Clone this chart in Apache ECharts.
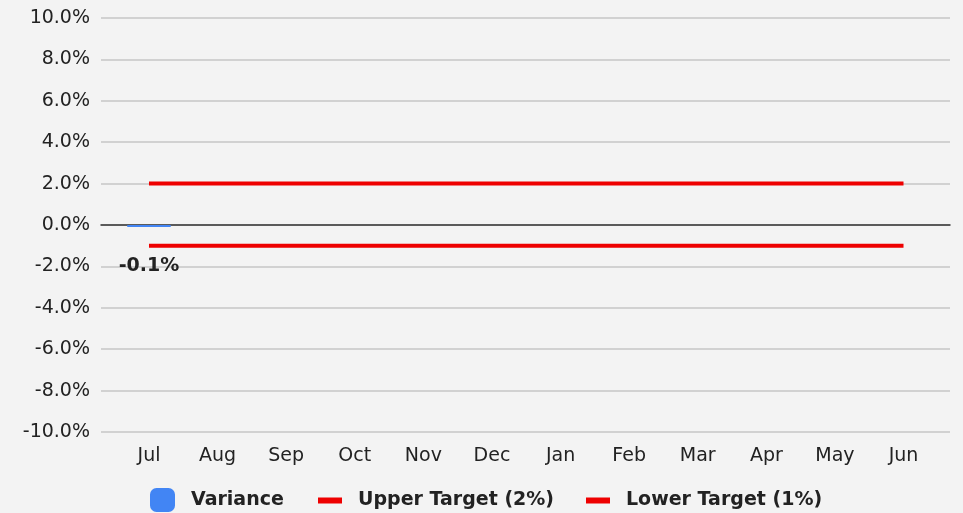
<!DOCTYPE html>
<html>
<head>
<meta charset="utf-8">
<script src="https://cdn.jsdelivr.net/npm/echarts@6/dist/echarts.min.js"></script>
<style>
html,body{margin:0;padding:0;background:#f3f3f3;}
#chart{width:963px;height:513px;}
</style>
</head>
<body>
<div id="chart"></div>
<script>
const categories = ['Jul','Aug','Sep','Oct','Nov','Dec','Jan','Feb','Mar','Apr','May','Jun'];
const variance = [-0.1, null, null, null, null, null, null, null, null, null, null, null];
const upperTarget = [2, 2, 2, 2, 2, 2, 2, 2, 2, 2, 2, 2];
const lowerTarget = [-1, -1, -1, -1, -1, -1, -1, -1, -1, -1, -1, -1];
const yMin = -10, yMax = 10, yStep = 2;

const FONT = 'DejaVu Sans';
const chart = echarts.init(document.getElementById('chart'), null, {renderer: 'canvas'});
chart.setOption({
  backgroundColor: '#f3f3f3',
  animation: false,
  textStyle: {fontFamily: FONT},
  grid: [
    {left: 101, right: 13, top: 18, bottom: 81},
    {left: 114.7, right: 25.2, top: 18, bottom: 81}
  ],
  xAxis: [
    {type: 'category', gridIndex: 0, data: categories, z: 1,
     axisLine: {show: true, onZero: true, lineStyle: {color: '#333', width: 1.5}},
     axisTick: {show: false}, axisLabel: {show: false}, splitLine: {show: false}},
    {type: 'category', gridIndex: 1, data: categories, boundaryGap: true,
     axisLine: {show: false}, axisTick: {show: false},
     axisLabel: {show: true, margin: 15, color: '#222', fontSize: 19, fontFamily: FONT}}
  ],
  yAxis: [
    {type: 'value', gridIndex: 0, min: yMin, max: yMax, interval: yStep,
     axisLine: {show: false}, axisTick: {show: false},
     axisLabel: {margin: 11, color: '#222', fontSize: 19, fontFamily: FONT,
       formatter: v => v.toFixed(1) + '%'},
     splitLine: {show: true, lineStyle: {color: '#c6c6c6', width: 1.5}}},
    {type: 'value', gridIndex: 1, min: yMin, max: yMax, interval: yStep,
     axisLine: {show: false}, axisTick: {show: false}, axisLabel: {show: false},
     splitLine: {show: false}}
  ],
  legend: [
    {left: 145, top: 483, itemWidth: 23, itemHeight: 22, icon: 'roundRect',
     data: ['Variance'],
     textStyle: {fontFamily: FONT, fontSize: 19, fontWeight: 'bold', color: '#222', padding: [0,0,0,12]}},
    {left: 313, top: 486, itemWidth: 24, itemHeight: 6, icon: 'rect', itemGap: 32,
     data: ['Upper Target (2%)', 'Lower Target (1%)'],
     textStyle: {fontFamily: FONT, fontSize: 19, fontWeight: 'bold', color: '#222', padding: [0,0,0,11]}}
  ],
  series: [
    {name: 'Variance', type: 'bar', xAxisIndex: 1, yAxisIndex: 1, data: variance, z: 5,
     barWidth: 44, itemStyle: {color: '#4285f4', borderColor: '#4285f4', borderWidth: 1.5, borderRadius: 2},
     label: {show: true, position: 'bottom', distance: 29, fontFamily: FONT, fontSize: 19,
       fontWeight: 'bold', color: '#222', formatter: p => p.value.toFixed(1) + '%'}},
    {name: 'Upper Target (2%)', type: 'line', xAxisIndex: 1, yAxisIndex: 1, data: upperTarget,
     showSymbol: false, symbol: 'none', color: '#ee0000', lineStyle: {color: '#ee0000', width: 4}},
    {name: 'Lower Target (1%)', type: 'line', xAxisIndex: 1, yAxisIndex: 1, data: lowerTarget,
     showSymbol: false, symbol: 'none', color: '#ee0000', lineStyle: {color: '#ee0000', width: 4}}
  ]
});
</script>
</body>
</html>
